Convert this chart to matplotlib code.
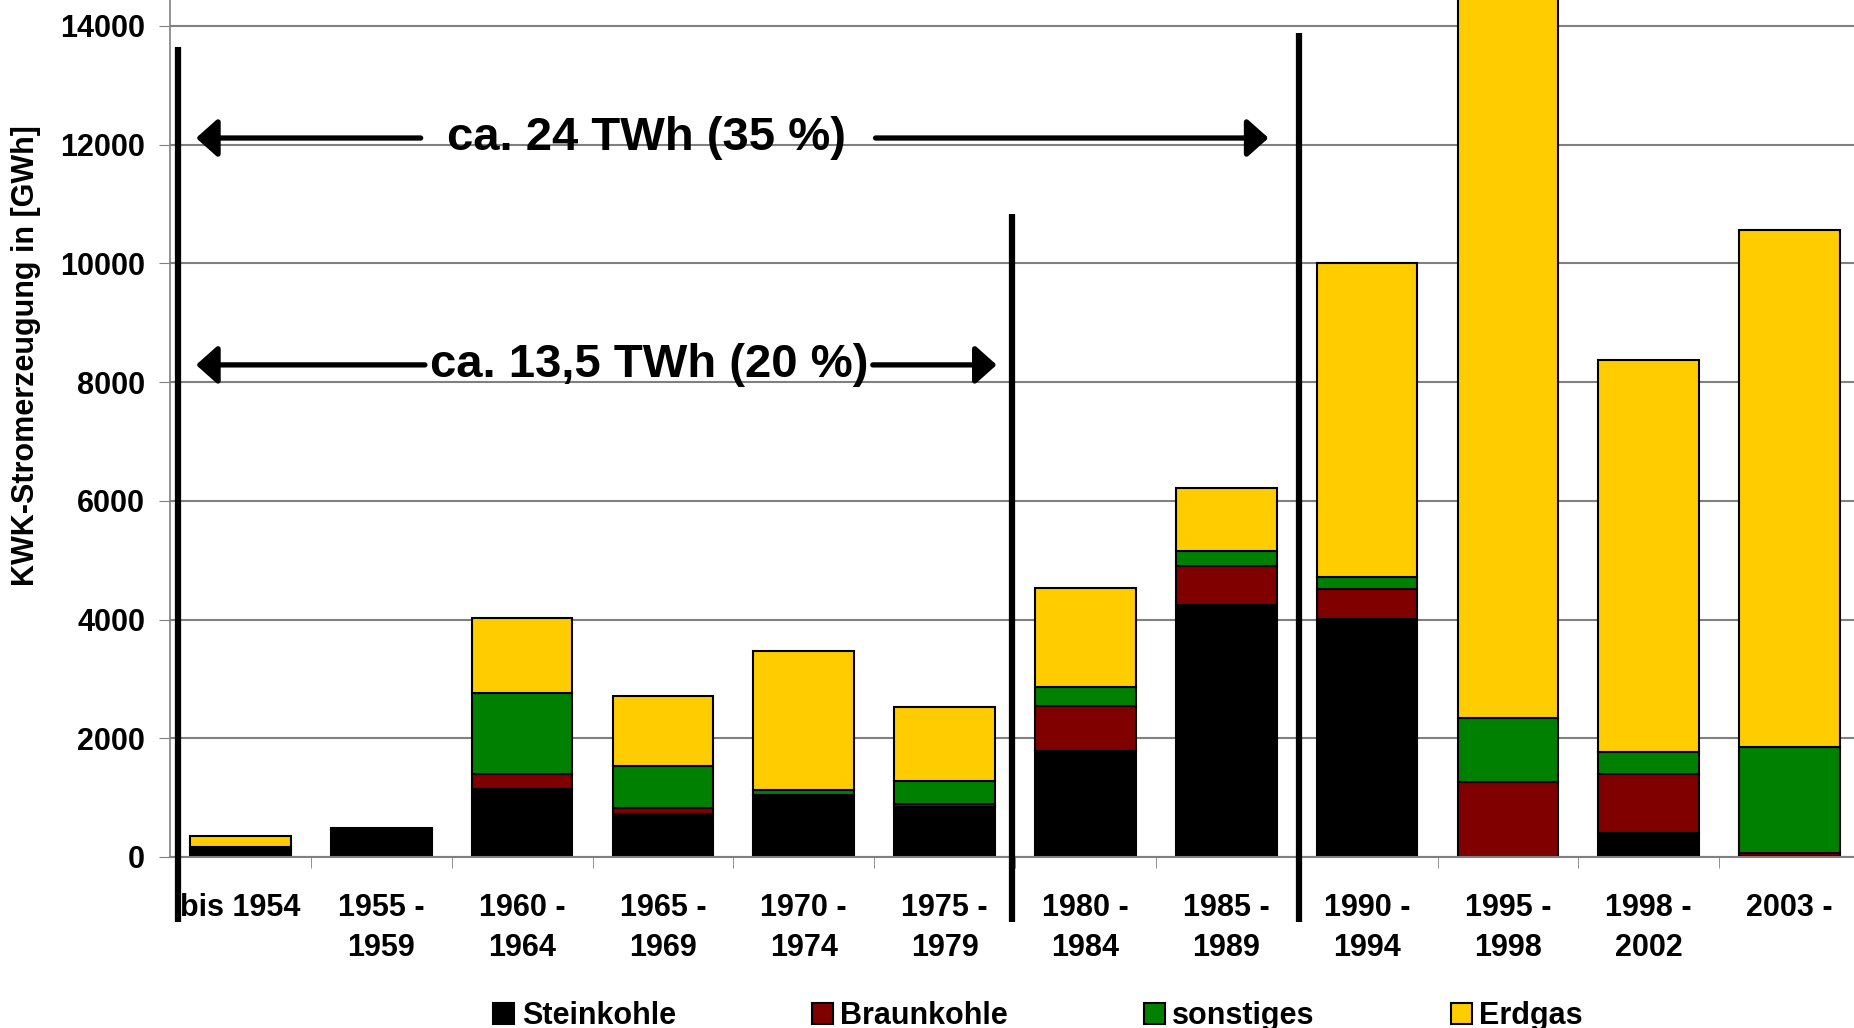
import numpy as np
import matplotlib
matplotlib.use("Agg")
import matplotlib.pyplot as plt
from matplotlib.patches import Patch
from matplotlib import font_manager


# KWK-Stromerzeugung nach Inbetriebnahmezeitraum und Brennstoff, in GWh
periods = ["bis 1954", "1955 -\n1959", "1960 -\n1964", "1965 -\n1969", "1970 -\n1974",
           "1975 -\n1979", "1980 -\n1984", "1985 -\n1989", "1990 -\n1994",
           "1995 -\n1998", "1998 -\n2002", "2003 -"]
steinkohle = [120, 450, 1150, 720, 1040, 850, 1790, 4240, 4010, 0, 400, 20]
braunkohle = [10, 0, 250, 100, 10, 50, 760, 670, 500, 1270, 1000, 50]
sonstiges = [40, 30, 1370, 715, 75, 375, 310, 250, 215, 1065, 370, 1775]
erdgas = [190, 10, 1250, 1175, 2340, 1255, 1675, 1055, 5275, 12660, 6600, 8710]

series_names = ["Steinkohle", "Braunkohle", "sonstiges", "Erdgas"]
colors = ["#000000", "#800000", "#008000", "#FFCC00"]

# narrow bold face if there is one, plain Arial clone otherwise
names = {f.name for f in font_manager.fontManager.ttflist}
if "Liberation Sans Narrow" in names:
    plt.rcParams["font.family"] = ["Liberation Sans Narrow", "DejaVu Sans"]
    fs, fs_big = 27, 40
else:
    plt.rcParams["font.family"] = ["Liberation Sans", "DejaVu Sans"]
    fs, fs_big = 22, 34
plt.rcParams["font.weight"] = "bold"

W, H = 1854, 1028
fig = plt.figure(figsize=(W / 100, H / 100), dpi=100)
ax = fig.add_axes([170 / W, 171 / H, 1690 / W, 857 / H])

x = np.arange(len(periods))
bottom = np.zeros(len(periods))
for vals, col in zip([steinkohle, braunkohle, sonstiges, erdgas], colors):
    ax.bar(x, vals, width=0.714, bottom=bottom, color=col, edgecolor="black",
           linewidth=1.5, zorder=2)
    bottom += np.array(vals)

ax.set_xlim(-0.5, len(periods) - 0.5)
ax.set_ylim(0, 14437)
ax.set_yticks(np.arange(0, 14001, 2000))
ax.yaxis.grid(True, color="#808080", linewidth=1.5)
ax.set_axisbelow(True)
for s in ["top", "right"]:
    ax.spines[s].set_visible(False)
ax.spines["left"].set_color("#808080")
ax.spines["bottom"].set_color("#808080")
ax.spines["left"].set_linewidth(1.2)
ax.spines["bottom"].set_linewidth(1.5)

ax.tick_params(axis="y", labelsize=fs, length=8, color="#808080", pad=10)
ax.set_xticks(x)
ax.set_xticklabels(periods, fontsize=fs, linespacing=1.42)
ax.set_xticks(np.arange(0.5, len(periods) - 1, 1), minor=True)
ax.tick_params(axis="x", which="major", length=0, pad=26)
ax.tick_params(axis="x", which="minor", length=8, color="#808080")

fig.text(26 / W, 1 - 356 / H, "KWK-Stromerzeugung in [GWh]", rotation=90,
         ha="center", va="center", fontsize=fs)

# Trennlinien zwischen den Zeitraeumen
for xv, ytop in [(-0.44, 13645), (5.48, 10837), (7.52, 13884)]:
    ax.plot([xv, xv], [-1100, ytop], color="black", linewidth=4.5,
            clip_on=False, solid_capstyle="butt", zorder=5)

# Doppelpfeile mit Beschriftung
arrow_kw = dict(arrowstyle="-|>,head_length=0.65,head_width=0.58", lw=3.8,
                color="black", shrinkA=0, shrinkB=0, mutation_scale=20)
for y, left_tip, left_end, right_start, right_tip, label, xc in [
        (12112, -0.315, 1.28, 4.51, 7.30, "ca. 24 TWh (35 %)", 2.885),
        (8290, -0.315, 1.31, 4.49, 5.37, "ca. 13,5 TWh (20 %)", 2.90)]:
    ax.annotate("", xy=(left_tip, y), xytext=(left_end, y), arrowprops=arrow_kw, zorder=6)
    ax.annotate("", xy=(right_tip, y), xytext=(right_start, y), arrowprops=arrow_kw, zorder=6)
    ax.text(xc, y, label, ha="center", va="center", fontsize=fs_big, zorder=7)

handles = [Patch(facecolor=c, edgecolor="black", linewidth=1.5) for c in colors]
fig.legend(handles, series_names, loc="center", bbox_to_anchor=(1038 / W, 1 - 1016 / H),
           ncol=4, frameon=False, fontsize=fs, handlelength=0.68, handleheight=0.68,
           handletextpad=0.25, columnspacing=4.45, borderpad=0)

fig.savefig("out.png", dpi=100)
